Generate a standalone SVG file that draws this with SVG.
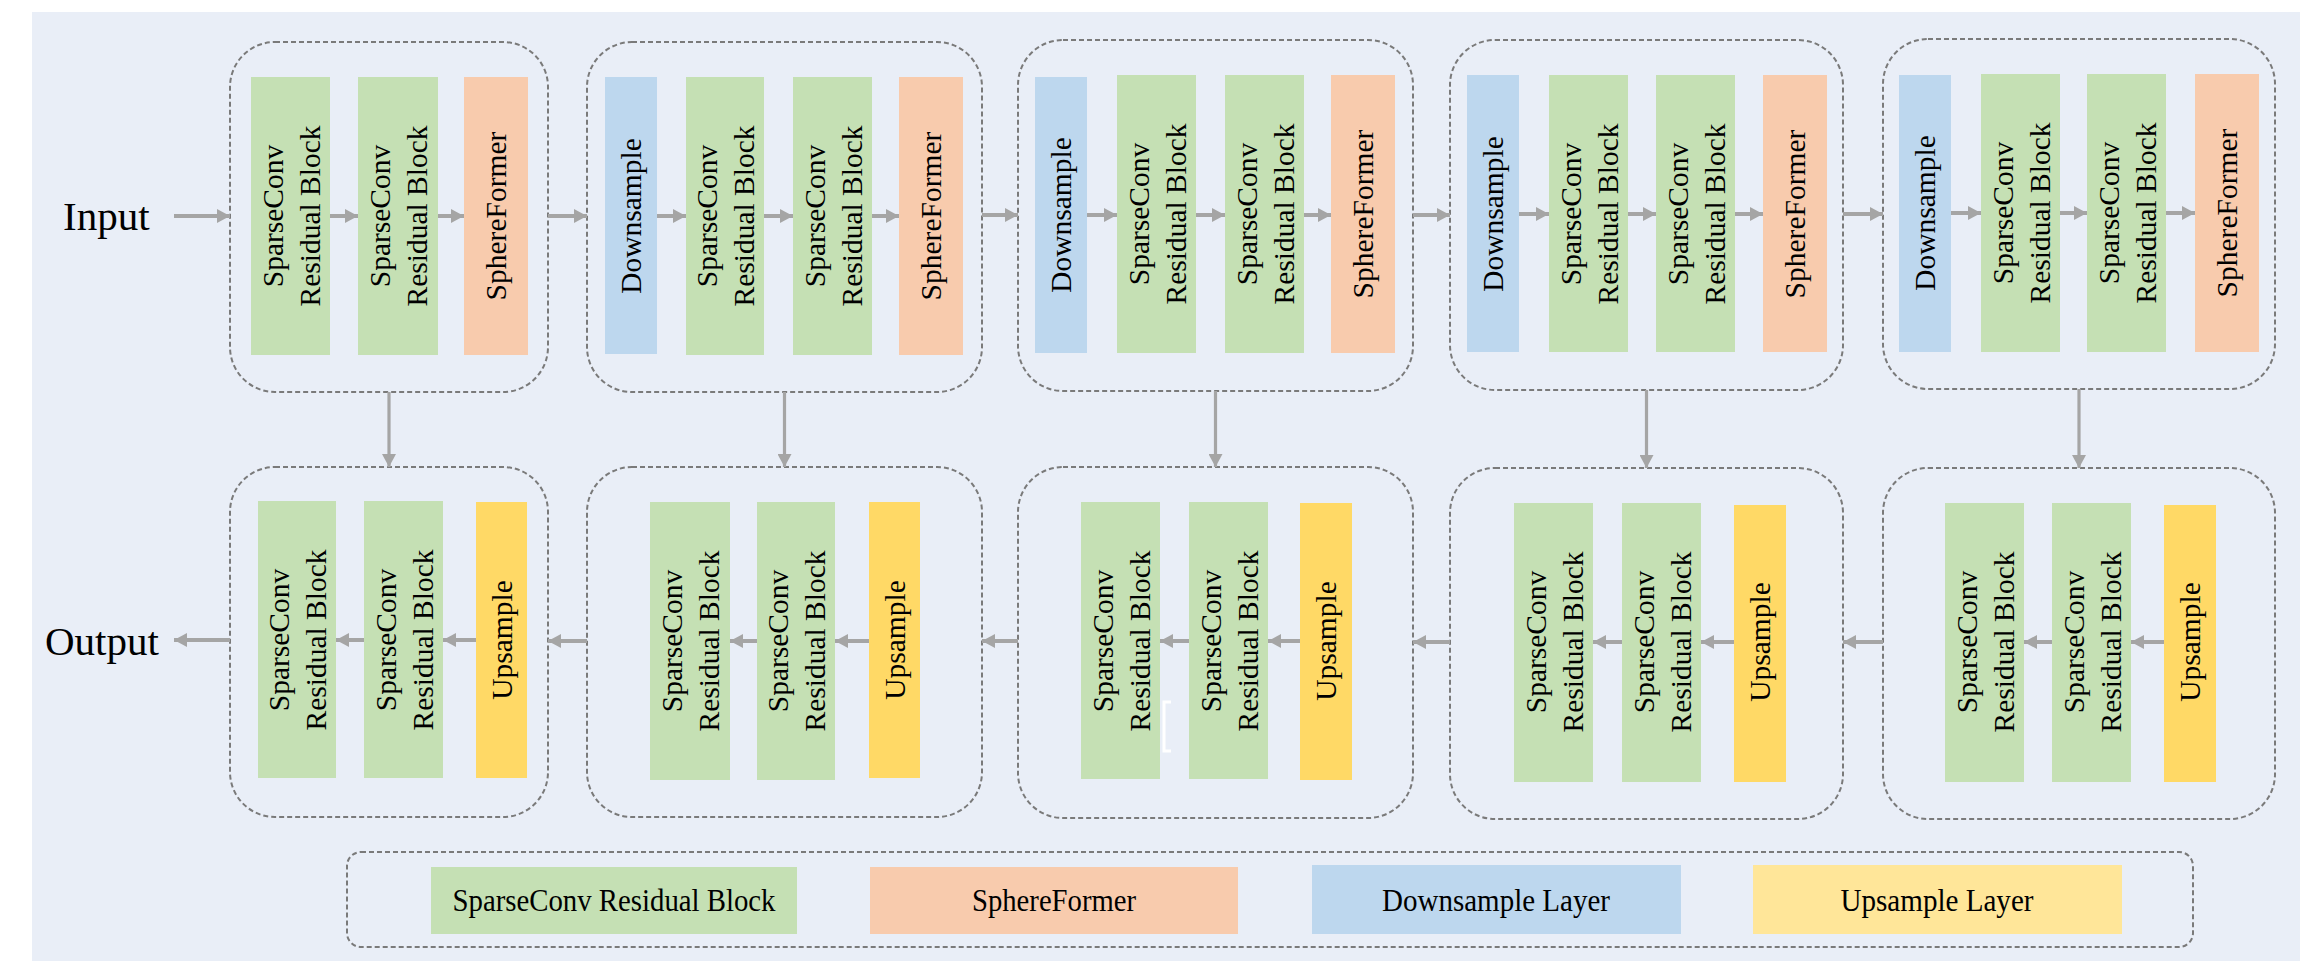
<svg xmlns="http://www.w3.org/2000/svg" width="2300" height="961" viewBox="0 0 2300 961">
<defs>
<style>
.bg{fill:#e9eef7}
.stage{fill:none;stroke:#7a7a7a;stroke-width:2;stroke-dasharray:5 3}
.sc{fill:#c5e0b4}
.sf{fill:#f8cbad}
.dn{fill:#bdd7ee}
.up{fill:#ffd966}
.upl{fill:#ffe699}
.lbl{font-family:"Liberation Serif","Times New Roman",serif;font-size:29.5px;fill:#000;text-anchor:middle}
.io{font-family:"Liberation Serif","Times New Roman",serif;font-size:41px;fill:#000}
.leg{font-family:"Liberation Serif","Times New Roman",serif;font-size:32px;fill:#000;text-anchor:middle}
.arr{stroke:#a5a5a5;stroke-width:4;fill:none;marker-end:url(#ah)}
.varr{stroke:#a5a5a5;stroke-width:3.2;fill:none;marker-end:url(#ah)}
</style>
<marker id="ah" markerUnits="userSpaceOnUse" markerWidth="14" markerHeight="14" refX="13" refY="7" orient="auto">
<path d="M0,0 L13,7 L0,14 z" fill="#a5a5a5"/>
</marker>
</defs>
<rect x="0" y="0" width="2300" height="961" fill="#ffffff"/>
<rect class="bg" x="32" y="12" width="2268" height="949"/>

<text class="io" x="63" y="230">Input</text>
<text class="io" x="45" y="655">Output</text>

<!-- Encoder stage 1 -->
<g id="enc1">
<rect class="stage" x="230" y="42" width="318" height="350" rx="45"/>
<g id="enc1_sc1"><rect class="sc" x="251" y="77" width="79" height="278"/><text class="lbl" transform="translate(290.5,216) rotate(-90)"><tspan x="0" y="-8">SparseConv</tspan><tspan x="0" y="29">Residual Block</tspan></text></g>
<g id="enc1_sc2"><rect class="sc" x="358" y="77" width="80" height="278"/><text class="lbl" transform="translate(398,216) rotate(-90)"><tspan x="0" y="-8">SparseConv</tspan><tspan x="0" y="29">Residual Block</tspan></text></g>
<g id="enc1_sf"><rect class="sf" x="464" y="77" width="64" height="278"/><text class="lbl" transform="translate(496,216) rotate(-90)" y="10">SphereFormer</text></g>
</g>

<!-- Encoder stage 2 -->
<g id="enc2">
<rect class="stage" x="587" y="42" width="395" height="350" rx="45"/>
<g id="enc2_dn"><rect class="dn" x="605" y="77" width="52" height="277"/><text class="lbl" transform="translate(631,216) rotate(-90)" y="10">Downsample</text></g>
<g id="enc2_sc1"><rect class="sc" x="686" y="77" width="78" height="278"/><text class="lbl" transform="translate(725,216) rotate(-90)"><tspan x="0" y="-8">SparseConv</tspan><tspan x="0" y="29">Residual Block</tspan></text></g>
<g id="enc2_sc2"><rect class="sc" x="793" y="77" width="79" height="278"/><text class="lbl" transform="translate(832.5,216) rotate(-90)"><tspan x="0" y="-8">SparseConv</tspan><tspan x="0" y="29">Residual Block</tspan></text></g>
<g id="enc2_sf"><rect class="sf" x="899" y="77" width="64" height="278"/><text class="lbl" transform="translate(931,216) rotate(-90)" y="10">SphereFormer</text></g>
</g>

<!-- Encoder stage 3 -->
<g id="enc3">
<rect class="stage" x="1018" y="40" width="395" height="351" rx="45"/>
<g id="enc3_dn"><rect class="dn" x="1035" y="77" width="52" height="276"/><text class="lbl" transform="translate(1061,215) rotate(-90)" y="10">Downsample</text></g>
<g id="enc3_sc1"><rect class="sc" x="1117" y="75" width="79" height="278"/><text class="lbl" transform="translate(1156.5,214) rotate(-90)"><tspan x="0" y="-8">SparseConv</tspan><tspan x="0" y="29">Residual Block</tspan></text></g>
<g id="enc3_sc2"><rect class="sc" x="1225" y="75" width="79" height="278"/><text class="lbl" transform="translate(1264.5,214) rotate(-90)"><tspan x="0" y="-8">SparseConv</tspan><tspan x="0" y="29">Residual Block</tspan></text></g>
<g id="enc3_sf"><rect class="sf" x="1331" y="75" width="64" height="278"/><text class="lbl" transform="translate(1363,214) rotate(-90)" y="10">SphereFormer</text></g>
</g>

<!-- Encoder stage 4 -->
<g id="enc4">
<rect class="stage" x="1450" y="40" width="393" height="350" rx="45"/>
<g id="enc4_dn"><rect class="dn" x="1467" y="75" width="52" height="277"/><text class="lbl" transform="translate(1493,214) rotate(-90)" y="10">Downsample</text></g>
<g id="enc4_sc1"><rect class="sc" x="1549" y="75" width="79" height="277"/><text class="lbl" transform="translate(1588.5,214) rotate(-90)"><tspan x="0" y="-8">SparseConv</tspan><tspan x="0" y="29">Residual Block</tspan></text></g>
<g id="enc4_sc2"><rect class="sc" x="1656" y="75" width="79" height="277"/><text class="lbl" transform="translate(1695.5,214) rotate(-90)"><tspan x="0" y="-8">SparseConv</tspan><tspan x="0" y="29">Residual Block</tspan></text></g>
<g id="enc4_sf"><rect class="sf" x="1763" y="75" width="64" height="277"/><text class="lbl" transform="translate(1795,214) rotate(-90)" y="10">SphereFormer</text></g>
</g>

<!-- Encoder stage 5 -->
<g id="enc5">
<rect class="stage" x="1883" y="39" width="392" height="350" rx="45"/>
<g id="enc5_dn"><rect class="dn" x="1899" y="75" width="52" height="277"/><text class="lbl" transform="translate(1925,213) rotate(-90)" y="10">Downsample</text></g>
<g id="enc5_sc1"><rect class="sc" x="1981" y="74" width="79" height="278"/><text class="lbl" transform="translate(2020.5,213) rotate(-90)"><tspan x="0" y="-8">SparseConv</tspan><tspan x="0" y="29">Residual Block</tspan></text></g>
<g id="enc5_sc2"><rect class="sc" x="2087" y="74" width="79" height="278"/><text class="lbl" transform="translate(2126.5,213) rotate(-90)"><tspan x="0" y="-8">SparseConv</tspan><tspan x="0" y="29">Residual Block</tspan></text></g>
<g id="enc5_sf"><rect class="sf" x="2195" y="74" width="64" height="278"/><text class="lbl" transform="translate(2227,213) rotate(-90)" y="10">SphereFormer</text></g>
</g>

<!-- Decoder stage 1 -->
<g id="dec1">
<rect class="stage" x="230" y="467" width="318" height="350" rx="45"/>
<g id="dec1_sc1"><rect class="sc" x="258" y="501" width="78" height="277"/><text class="lbl" transform="translate(297,640) rotate(-90)"><tspan x="0" y="-8">SparseConv</tspan><tspan x="0" y="29">Residual Block</tspan></text></g>
<g id="dec1_sc2"><rect class="sc" x="364" y="501" width="79" height="277"/><text class="lbl" transform="translate(403.5,640) rotate(-90)"><tspan x="0" y="-8">SparseConv</tspan><tspan x="0" y="29">Residual Block</tspan></text></g>
<g id="dec1_up"><rect class="up" x="476" y="502" width="51" height="276"/><text class="lbl" transform="translate(501.5,640) rotate(-90)" y="10">Upsample</text></g>
</g>

<!-- Decoder stage 2 -->
<g id="dec2">
<rect class="stage" x="587" y="467" width="395" height="350" rx="45"/>
<g id="dec2_sc1"><rect class="sc" x="650" y="502" width="80" height="278"/><text class="lbl" transform="translate(690,641) rotate(-90)"><tspan x="0" y="-8">SparseConv</tspan><tspan x="0" y="29">Residual Block</tspan></text></g>
<g id="dec2_sc2"><rect class="sc" x="757" y="502" width="78" height="278"/><text class="lbl" transform="translate(796,641) rotate(-90)"><tspan x="0" y="-8">SparseConv</tspan><tspan x="0" y="29">Residual Block</tspan></text></g>
<g id="dec2_up"><rect class="up" x="869" y="502" width="51" height="276"/><text class="lbl" transform="translate(894.5,640) rotate(-90)" y="10">Upsample</text></g>
</g>

<!-- Decoder stage 3 -->
<g id="dec3">
<rect class="stage" x="1018" y="467" width="395" height="351" rx="45"/>
<g id="dec3_sc1"><rect class="sc" x="1081" y="502" width="79" height="277"/><text class="lbl" transform="translate(1120.5,641) rotate(-90)"><tspan x="0" y="-8">SparseConv</tspan><tspan x="0" y="29">Residual Block</tspan></text></g>
<g id="dec3_sc2"><rect class="sc" x="1189" y="502" width="79" height="277"/><text class="lbl" transform="translate(1228.5,641) rotate(-90)"><tspan x="0" y="-8">SparseConv</tspan><tspan x="0" y="29">Residual Block</tspan></text></g>
<g id="dec3_up"><rect class="up" x="1300" y="503" width="52" height="277"/><text class="lbl" transform="translate(1326,641) rotate(-90)" y="10">Upsample</text></g>
<path d="M1171,702 H1164 V751 H1171" fill="none" stroke="#ffffff" stroke-width="3"/>
</g>

<!-- Decoder stage 4 -->
<g id="dec4">
<rect class="stage" x="1450" y="468" width="393" height="351" rx="45"/>
<g id="dec4_sc1"><rect class="sc" x="1514" y="503" width="79" height="279"/><text class="lbl" transform="translate(1553.5,642) rotate(-90)"><tspan x="0" y="-8">SparseConv</tspan><tspan x="0" y="29">Residual Block</tspan></text></g>
<g id="dec4_sc2"><rect class="sc" x="1622" y="503" width="79" height="279"/><text class="lbl" transform="translate(1661.5,642) rotate(-90)"><tspan x="0" y="-8">SparseConv</tspan><tspan x="0" y="29">Residual Block</tspan></text></g>
<g id="dec4_up"><rect class="up" x="1734" y="505" width="52" height="277"/><text class="lbl" transform="translate(1760,642) rotate(-90)" y="10">Upsample</text></g>
</g>

<!-- Decoder stage 5 -->
<g id="dec5">
<rect class="stage" x="1883" y="468" width="392" height="351" rx="45"/>
<g id="dec5_sc1"><rect class="sc" x="1945" y="503" width="79" height="279"/><text class="lbl" transform="translate(1984.5,642) rotate(-90)"><tspan x="0" y="-8">SparseConv</tspan><tspan x="0" y="29">Residual Block</tspan></text></g>
<g id="dec5_sc2"><rect class="sc" x="2052" y="503" width="79" height="279"/><text class="lbl" transform="translate(2091.5,642) rotate(-90)"><tspan x="0" y="-8">SparseConv</tspan><tspan x="0" y="29">Residual Block</tspan></text></g>
<g id="dec5_up"><rect class="up" x="2164" y="505" width="52" height="277"/><text class="lbl" transform="translate(2190,642) rotate(-90)" y="10">Upsample</text></g>
</g>

<!-- Connectors -->
<g id="connectors">
<line class="arr" x1="174" y1="216" x2="230" y2="216"/>
<line class="arr" x1="330" y1="216" x2="358" y2="216"/>
<line class="arr" x1="438" y1="216" x2="464" y2="216"/>
<line class="arr" x1="548" y1="216" x2="587" y2="216"/>
<line class="arr" x1="657" y1="216" x2="686" y2="216"/>
<line class="arr" x1="764" y1="216" x2="793" y2="216"/>
<line class="arr" x1="872" y1="216" x2="899" y2="216"/>
<line class="arr" x1="982" y1="215" x2="1018" y2="215"/>
<line class="arr" x1="1087" y1="215" x2="1117" y2="215"/>
<line class="arr" x1="1196" y1="215" x2="1225" y2="215"/>
<line class="arr" x1="1304" y1="215" x2="1331" y2="215"/>
<line class="arr" x1="1413" y1="215" x2="1450" y2="215"/>
<line class="arr" x1="1519" y1="214" x2="1549" y2="214"/>
<line class="arr" x1="1628" y1="214" x2="1656" y2="214"/>
<line class="arr" x1="1735" y1="214" x2="1763" y2="214"/>
<line class="arr" x1="1843" y1="214" x2="1883" y2="214"/>
<line class="arr" x1="1951" y1="213" x2="1981" y2="213"/>
<line class="arr" x1="2060" y1="213" x2="2087" y2="213"/>
<line class="arr" x1="2166" y1="213" x2="2195" y2="213"/>

<line class="varr" x1="389" y1="392" x2="389" y2="467"/>
<line class="varr" x1="784.5" y1="392" x2="784.5" y2="467"/>
<line class="varr" x1="1215.5" y1="391" x2="1215.5" y2="467"/>
<line class="varr" x1="1646.5" y1="390" x2="1646.5" y2="468"/>
<line class="varr" x1="2079" y1="389" x2="2079" y2="468"/>

<line class="arr" x1="2164" y1="642" x2="2131" y2="642"/>
<line class="arr" x1="2052" y1="642" x2="2024" y2="642"/>
<line class="arr" x1="1883" y1="642" x2="1843" y2="642"/>
<line class="arr" x1="1734" y1="642" x2="1701" y2="642"/>
<line class="arr" x1="1622" y1="642" x2="1593" y2="642"/>
<line class="arr" x1="1450" y1="642" x2="1413" y2="642"/>
<line class="arr" x1="1300" y1="641" x2="1268" y2="641"/>
<line class="arr" x1="1189" y1="641" x2="1160" y2="641"/>
<line class="arr" x1="1018" y1="641" x2="982" y2="641"/>
<line class="arr" x1="869" y1="641" x2="835" y2="641"/>
<line class="arr" x1="757" y1="641" x2="730" y2="641"/>
<line class="arr" x1="587" y1="641" x2="548" y2="641"/>
<line class="arr" x1="476" y1="640" x2="443" y2="640"/>
<line class="arr" x1="364" y1="640" x2="336" y2="640"/>
<line class="arr" x1="230" y1="640" x2="174" y2="640"/>
</g>

<!-- Legend -->
<g id="legend">
<rect class="stage" x="347" y="852" width="1846" height="95" rx="14"/>
<g id="leg_sc"><rect class="sc" x="431" y="867" width="366" height="67"/><text class="leg" x="614" y="911" textLength="323" lengthAdjust="spacingAndGlyphs">SparseConv Residual Block</text></g>
<g id="leg_sf"><rect class="sf" x="870" y="867" width="368" height="67"/><text class="leg" x="1054" y="911" textLength="164" lengthAdjust="spacingAndGlyphs">SphereFormer</text></g>
<g id="leg_dn"><rect class="dn" x="1312" y="865" width="369" height="69"/><text class="leg" x="1496" y="911" textLength="228" lengthAdjust="spacingAndGlyphs">Downsample Layer</text></g>
<g id="leg_up"><rect class="upl" x="1753" y="865" width="369" height="69"/><text class="leg" x="1937" y="911" textLength="193" lengthAdjust="spacingAndGlyphs">Upsample Layer</text></g>
</g>
</svg>
